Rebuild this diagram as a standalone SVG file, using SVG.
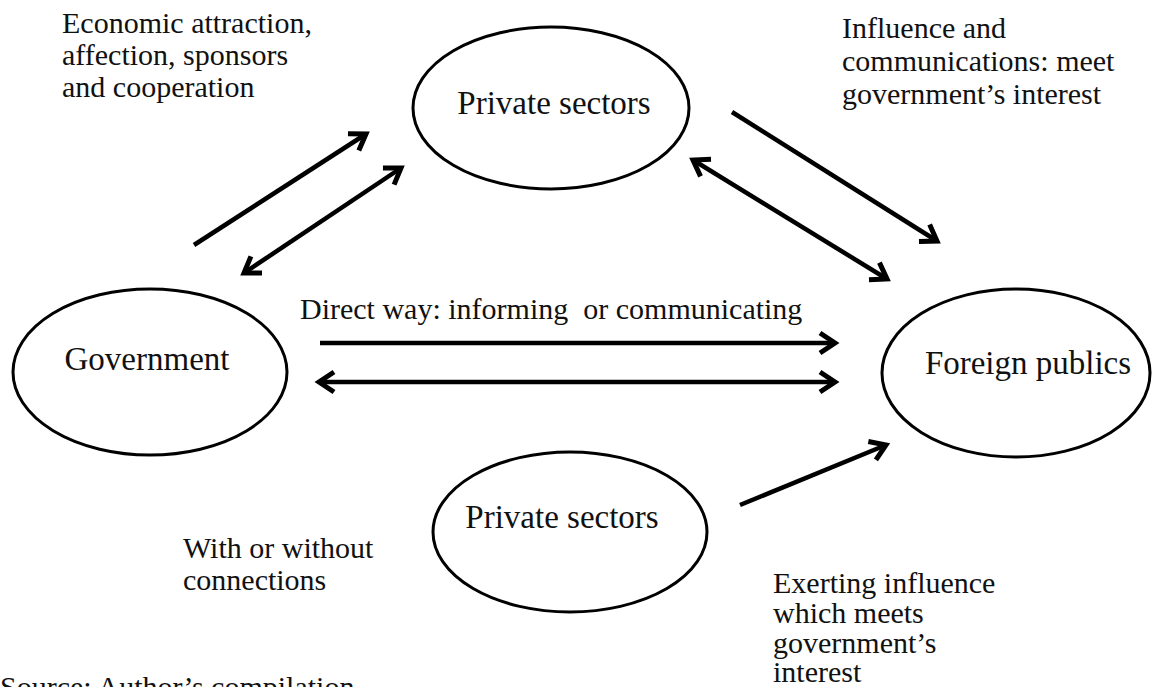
<svg xmlns="http://www.w3.org/2000/svg" width="1153" height="687" viewBox="0 0 1153 687">
  <style>
    .node { fill: #ffffff; stroke: #000000; stroke-width: 3; }
    .nlabel { font-family: "Liberation Serif", "DejaVu Serif", serif; font-size: 33px; fill: #111111; text-anchor: middle; }
    .label { font-family: "Liberation Serif", "DejaVu Serif", serif; font-size: 30px; fill: #111111; }
    .edge { stroke: #000000; stroke-width: 4.5; fill: none; marker-end: url(#head); }
    .both { marker-start: url(#head); }
  </style>
  <defs>
    <marker id="head" markerUnits="userSpaceOnUse" viewBox="-20 -12 24 24" refX="0" refY="0" markerWidth="24" markerHeight="24" orient="auto-start-reverse" overflow="visible">
      <path d="M -15 -10 L 0 0 L -15 10" fill="none" stroke="#000000" stroke-width="5" stroke-linecap="butt" stroke-linejoin="miter"/>
    </marker>
  </defs>
  <rect width="1153" height="687" fill="#ffffff"/>

  <g id="private-sectors-top">
    <ellipse class="node" cx="551" cy="108" rx="138" ry="81"/>
    <text class="nlabel" x="554" y="114">Private sectors</text>
  </g>

  <g id="government">
    <ellipse class="node" cx="150" cy="372" rx="137" ry="83"/>
    <text class="nlabel" x="147" y="370">Government</text>
  </g>

  <g id="foreign-publics">
    <ellipse class="node" cx="1016" cy="373" rx="134" ry="84"/>
    <text class="nlabel" x="1028" y="374">Foreign publics</text>
  </g>

  <g id="private-sectors-bottom">
    <ellipse class="node" cx="570" cy="532" rx="137" ry="80"/>
    <text class="nlabel" x="562" y="528">Private sectors</text>
  </g>

  <g id="connectors">
    <line class="edge" x1="194" y1="245" x2="366" y2="134"/>
    <line class="edge both" x1="244" y1="273" x2="401" y2="168"/>
    <line class="edge" x1="732" y1="112" x2="937" y2="241"/>
    <line class="edge both" x1="693" y1="160" x2="887" y2="279"/>
    <line class="edge" x1="320" y1="343" x2="835" y2="343"/>
    <line class="edge both" x1="319" y1="382" x2="835" y2="382"/>
    <line class="edge" x1="740" y1="505" x2="886" y2="445"/>
  </g>

  <g id="labels">
    <text class="label" x="62" y="33">Economic attraction,<tspan x="62" y="65">affection, sponsors</tspan><tspan x="62" y="97">and cooperation</tspan></text>

    <text class="label" x="842" y="38">Influence and<tspan x="842" y="71">communications: meet</tspan><tspan x="842" y="104">government’s interest</tspan></text>

    <text class="label" x="300" y="319" xml:space="preserve">Direct way: informing  or communicating</text>

    <text class="label" x="183" y="558">With or without<tspan x="183" y="590">connections</tspan></text>

    <text class="label" x="773" y="593">Exerting influence<tspan x="773" y="623">which meets</tspan><tspan x="773" y="653">government’s</tspan><tspan x="773" y="682">interest</tspan></text>

    <text class="label" x="0" y="697">Source: Author’s compilation</text>
  </g>
</svg>
